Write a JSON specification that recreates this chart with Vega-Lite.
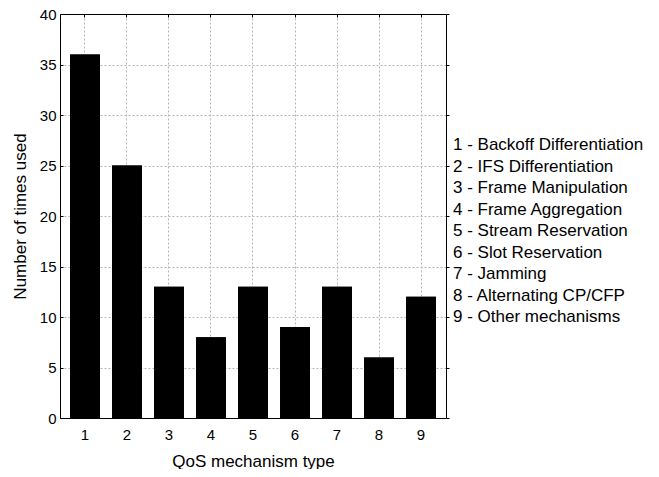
{
  "$schema": "https://vega.github.io/schema/vega-lite/v6.json",
  "padding": {"left": 11, "top": 7, "right": 0, "bottom": 0},
  "background": "white",
  "spacing": 3,
  "config": {
    "view": {"stroke": null},
    "font": "Liberation Sans",
    "axis": {
      "domainColor": "#000",
      "domainWidth": 1,
      "tickColor": "#000",
      "labelColor": "#000",
      "titleColor": "#000",
      "labelFontSize": 15,
      "titleFontSize": 17,
      "titleFontWeight": "normal",
      "gridColor": "#b4b4b4",
      "gridDash": [2, 2],
      "gridWidth": 1
    }
  },
  "hconcat": [
    {
      "width": 386,
      "height": 404,
      "data": {
        "values": [
          {"type": "1", "count": 36},
          {"type": "2", "count": 25},
          {"type": "3", "count": 13},
          {"type": "4", "count": 8},
          {"type": "5", "count": 13},
          {"type": "6", "count": 9},
          {"type": "7", "count": 13},
          {"type": "8", "count": 6},
          {"type": "9", "count": 12}
        ]
      },
      "layer": [
        {
          "mark": {"type": "bar", "color": "#000"},
          "encoding": {
            "x": {
              "field": "type",
              "type": "ordinal",
              "scale": {"paddingInner": 0.29, "paddingOuter": 0.24},
              "axis": {
                "title": "QoS mechanism type",
                "labelAngle": 0,
                "tickSize": -3,
                "labelPadding": 12,
                "titlePadding": 11,
                "bandPosition": 0.5,
                "grid": true
              }
            },
            "y": {
              "field": "count",
              "type": "quantitative",
              "scale": {"domain": [0, 40]},
              "axis": {
                "title": "Number of times used",
                "values": [0, 5, 10, 15, 20, 25, 30, 35, 40],
                "tickSize": -3,
                "labelPadding": 7,
                "titlePadding": 10,
                "grid": true
              }
            }
          }
        },
        {
          "mark": {"type": "bar", "color": "#000"},
          "encoding": {
            "x": {
              "field": "type",
              "type": "ordinal",
              "axis": {"orient": "top", "labels": false, "title": null, "grid": false, "tickSize": -3, "bandPosition": 0.5}
            },
            "y": {
              "field": "count",
              "type": "quantitative",
              "axis": {"orient": "right", "labels": false, "title": null, "grid": false, "tickSize": 3, "values": [0, 5, 10, 15, 20, 25, 30, 35, 40]}
            }
          }
        }
      ],
      "resolve": {"axis": {"x": "independent", "y": "independent"}}
    },
    {
      "width": 195,
      "height": 404,
      "data": {
        "values": [
          {"order": 1, "label": "1 - Backoff Differentiation"},
          {"order": 2, "label": "2 - IFS Differentiation"},
          {"order": 3, "label": "3 - Frame Manipulation"},
          {"order": 4, "label": "4 - Frame Aggregation"},
          {"order": 5, "label": "5 - Stream Reservation"},
          {"order": 6, "label": "6 - Slot Reservation"},
          {"order": 7, "label": "7 - Jamming"},
          {"order": 8, "label": "8 - Alternating CP/CFP"},
          {"order": 9, "label": "9 - Other mechanisms"}
        ]
      },
      "mark": {"type": "text", "align": "left", "baseline": "middle", "fontSize": 17, "color": "#000"},
      "encoding": {
        "y": {"field": "order", "type": "ordinal", "scale": {"type": "point", "padding": 0, "range": [131, 303]}, "axis": null},
        "x": {"datum": 0, "type": "quantitative", "scale": {"domain": [0, 1]}, "axis": null},
        "text": {"field": "label"}
      }
    }
  ]
}
